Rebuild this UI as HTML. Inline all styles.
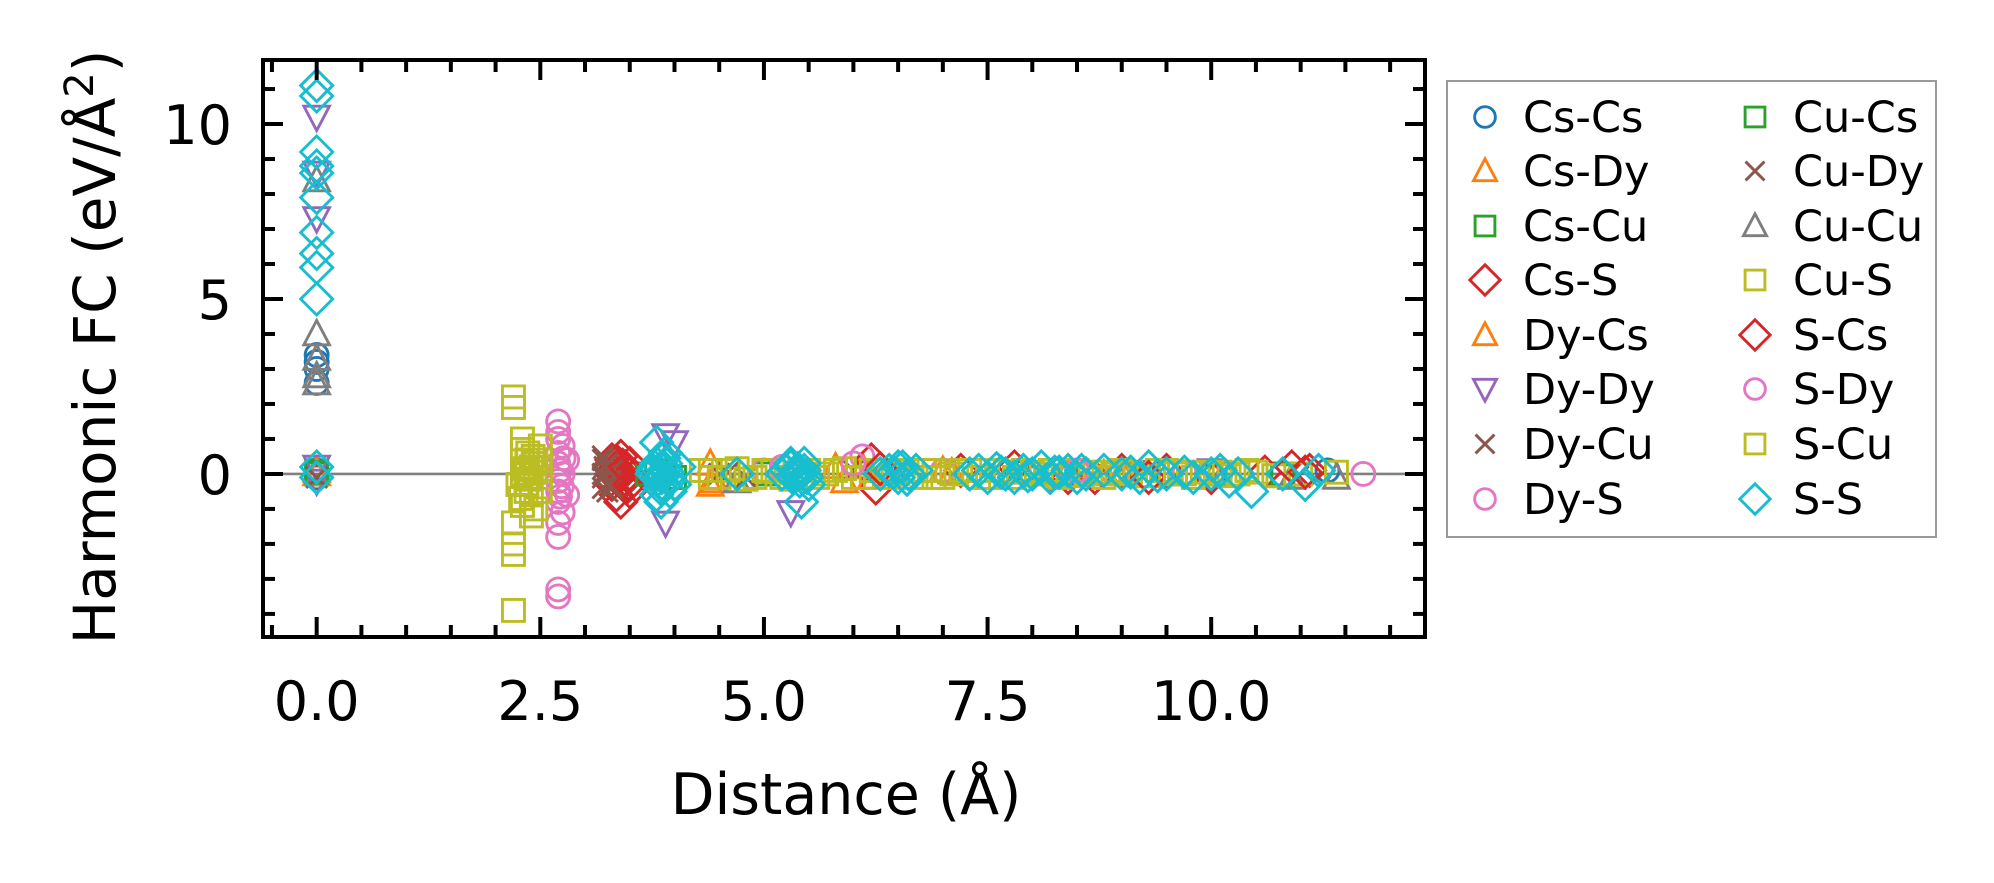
<!DOCTYPE html>
<html><head><meta charset="utf-8"><style>
html,body{margin:0;padding:0;background:#fff;}
svg{display:block;font-family:"DejaVu Sans","Liberation Sans",sans-serif;}
</style></head><body>
<svg id="chart" width="1994" height="883" viewBox="0 0 1994 883" xmlns="http://www.w3.org/2000/svg">
<rect width="1994" height="883" fill="#fff"/>
<g id="plot"></g>
<g id="axes"></g>
<text x="846" y="814" font-size="57" text-anchor="middle">Distance (Å)</text>
<text transform="translate(115,347) rotate(-90)" font-size="58" text-anchor="middle">Harmonic FC (eV/Å<tspan dy="-22" font-size="40">2</tspan><tspan dy="22">)</tspan></text>
<g id="legend"></g>
</svg>
<script>
const NS="http://www.w3.org/2000/svg";
const xTicks=[0,2.5,5,7.5,10];
const xTickLabels=["0.0","2.5","5.0","7.5","10.0"];
const yTicks=[0,5,10];
const yTickLabels=["0","5","10"];
const seriesNames=["Cs-Cs","Cs-Dy","Cs-Cu","Cs-S","Dy-Cs","Dy-Dy","Dy-Cu","Dy-S","Cu-Cs","Cu-Dy","Cu-Cu","Cu-S","S-Cs","S-Dy","S-Cu","S-S"];
const ccX=[0,0,0,0,0,0,11.3,8.4,7.9,10.1];
const ccY=[3.4,3.2,3.0,2.6,0.1,-0.1,0.1,0,0.05,0];
const cdX=[0,4.4,4.4,5.9,6.1,7.0,9.0];
const cdY=[0.1,-0.3,0.3,-0.2,0.2,0.1,0.05];
const ccuX=[0,3.8,4.0,10.8,5.0];
const ccuY=[0,0.1,-0.1,0,0];
const csX=[3.3,3.35,3.4,3.45,3.5,3.3,3.4,3.5,3.35,3.45,3.4,3.32,3.38,3.42,3.48,3.36,3.44,3.3,3.5,6.2,6.25,7.8,8.4,11.1,9.0,10.0,7.2,8.7,9.5,10.6];
const csY=[0.4,0.2,0,-0.2,0.3,-0.3,0.5,-0.5,-0.6,0.1,-0.8,0.1,-0.1,0.25,-0.35,0.35,-0.15,0,0,0.4,-0.4,0.2,-0.1,0.1,0.1,-0.1,0.1,-0.1,0.1,0.05];
const dcX=[0,4.45,5.8,6.2,7.1,8.8];
const dcY=[0,-0.2,0.2,-0.1,0.05,0];
const ddX=[0,0,0,0,0,3.9,3.9,5.3,4.0,6.5,10.0,8.2,9.1];
const ddY=[10.2,8.6,7.3,0.2,-0.2,1.1,-1.4,-1.1,0.9,0.1,0.1,-0.1,0.05];
const dcuX=[3.2,3.25,3.3,3.2,3.3,3.25,3.2,3.22,3.28,3.2,4.5,4.8,6.0];
const dcuY=[0.5,0.3,0.1,-0.1,-0.3,-0.5,0,0.2,-0.2,-0.4,0,-0.1,0.1];
const dsX=[2.7,2.7,2.7,2.7,2.7,2.75,2.75,2.7,2.7,2.7,2.75,2.7,2.7,2.7,2.7,2.72,2.74,2.72,2.76,6.1,5.0,7.0,8.9,11.7];
const dsY=[1.5,1.2,1.0,0.6,0.3,0.8,0,-0.2,-0.5,-0.8,-1.1,-1.4,-1.8,-3.3,-3.5,0.1,-0.35,-0.65,0.45,0.5,0.1,0.1,0.05,0];
const cucsX=[0,3.7,10.8];
const cucsY=[0.05,0,-0.05];
const cudyX=[0,3.2,3.3,4.6];
const cudyY=[-0.1,0.4,-0.4,0.05];
const cucuX=[0,0,0,0,0,4.7,10.9,11.4];
const cucuY=[8.4,4.0,3.3,2.8,2.6,-0.2,-0.1,-0.1];
const cusX=[2.2,2.2,2.2,2.2,2.2,2.2,2.3,2.3,2.35,2.4,2.3,2.35,2.4,2.3,2.4,2.5,2.5,2.5,2.5,2.45,2.32,2.38,2.42,2.34,2.28,2.44,2.36,4.3,4.4,4.5,4.6,4.7,4.8,4.9,5.0,5.1,5.2,5.3,5.4,5.5,5.6,5.7,5.8,5.9,6.0,6.1,6.2,6.3,6.4,6.5,6.6,6.7,6.8,6.9,7.0,7.1,7.2,7.3,7.4,7.5,7.6,7.7,7.8,7.9,8.0,8.1,8.2,8.3,8.4,8.5,8.6,8.7,8.8,8.9,9.0,9.1,9.2,9.3,9.4,9.5,9.6,9.7,9.8,9.9,10.0,10.1,10.2,10.3,10.4,10.5,10.7,11.0,11.4];
const cusY=[2.2,1.9,-1.4,-2.0,-2.3,-3.9,1.0,0.7,0.4,0.2,0,-0.3,-0.6,-0.9,-1.2,0.8,0.4,-0.1,-0.5,-1.0,0.15,-0.15,0.5,-0.5,-0.7,0.05,0.6,0.1,-0.1,-0.1,0.1,0.15,-0.15,-0.1,0.1,0.1,-0.1,-0.15,0.1,0.1,-0.1,0,0.1,0.15,-0.1,-0.1,0.1,0.1,-0.1,0,0.1,-0.1,0.1,0.1,-0.1,0,0.1,0.1,-0.1,-0.1,0.1,0.05,-0.1,0.1,0.05,0,0.1,-0.1,-0.05,0.1,0,0.05,-0.1,0,0.1,0.05,-0.05,-0.05,0.1,0.1,0,0,-0.1,0.05,0,0.05,-0.05,0,0.1,0.05,-0.05,0,0.05,-0.1];
const scsX=[3.45,3.5,6.3,9.3,10.9,11.05];
const scsY=[0.2,-0.3,0.15,-0.1,0.2,0.05];
const sdyX=[2.8,2.8,5.2,6.0,8.5,9.7];
const sdyY=[0.4,-0.6,0.2,0.3,0.1,0.05];
const scuX=[2.25,2.45,4.4,6.9,9.6];
const scuY=[-0.3,0.3,0.1,-0.1,0.05];
const ssX=[0,0,0,0,0,0,0,0,0,0,0,0,3.75,3.8,3.85,3.9,3.95,3.8,3.85,3.9,3.82,3.88,3.78,3.84,3.92,3.86,3.8,3.9,3.76,3.94,4.0,4.05,4.7,5.2,5.3,5.4,5.45,5.5,5.35,5.42,5.45,5.25,5.32,5.38,5.48,5.4,5.3,6.3,6.4,6.5,6.55,6.6,6.7,6.45,6.62,6.5,7.3,7.4,7.5,7.6,7.7,7.8,7.9,8.0,8.1,8.2,8.3,8.4,8.5,8.6,8.8,9.0,9.2,9.3,9.5,9.7,9.8,10.0,10.1,10.2,10.3,10.45,10.8,11.05,11.2,7.65,7.95,8.25,8.55,9.1,9.4];
const ssY=[11.1,10.8,9.2,8.8,8.6,7.9,6.9,6.3,5.9,5.0,0.2,-0.1,0,0.3,-0.3,0.6,-0.5,0.9,-0.8,0.15,-0.15,0.45,0.2,-0.4,0.05,-0.1,-0.6,0.3,0.1,-0.2,-0.3,0.2,0,0,0.2,-0.2,0.3,-0.3,0,-0.8,0.1,0.1,-0.1,0.15,-0.1,0.05,0.3,0,0.1,-0.1,0.2,-0.15,0.1,0.05,0,0.2,0,0.1,-0.1,0.15,0,-0.1,0.1,0,0.2,-0.1,0.05,0.1,-0.1,0,0.1,0,-0.1,0.2,0,0.05,-0.1,0,0.1,-0.2,0,-0.5,0,-0.3,0.1,0.05,-0.05,0.05,0.1,0.05,-0.05];

const series=[
 {n:0,xs:ccX,ys:ccY,m:"o",c:"#1f77b4"},{n:1,xs:cdX,ys:cdY,m:"^",c:"#ff7f0e"},
 {n:2,xs:ccuX,ys:ccuY,m:"s",c:"#2ca02c"},{n:3,xs:csX,ys:csY,m:"D",c:"#d62728"},
 {n:4,xs:dcX,ys:dcY,m:"^",c:"#ff7f0e"},{n:5,xs:ddX,ys:ddY,m:"v",c:"#9467bd"},
 {n:6,xs:dcuX,ys:dcuY,m:"x",c:"#8c564b"},{n:7,xs:dsX,ys:dsY,m:"o",c:"#e377c2"},
 {n:8,xs:cucsX,ys:cucsY,m:"s",c:"#2ca02c"},{n:9,xs:cudyX,ys:cudyY,m:"x",c:"#8c564b"},
 {n:10,xs:cucuX,ys:cucuY,m:"^",c:"#7f7f7f"},{n:11,xs:cusX,ys:cusY,m:"s",c:"#bcbd22"},
 {n:12,xs:scsX,ys:scsY,m:"D",c:"#d62728"},{n:13,xs:sdyX,ys:sdyY,m:"o",c:"#e377c2"},
 {n:14,xs:scuX,ys:scuY,m:"s",c:"#bcbd22"},{n:15,xs:ssX,ys:ssY,m:"D",c:"#17becf"}];

const L=263,R=1425,T=60,B=637,xmin=-0.6,xmax=12.39,ymin=-4.66,ymax=11.83;
const sx=v=>L+(v-xmin)/(xmax-xmin)*(R-L);
const sy=v=>B-(v-ymin)/(ymax-ymin)*(B-T);

function mk(tag,attrs,parent){const e=document.createElementNS(NS,tag);for(const k in attrs)e.setAttribute(k,attrs[k]);parent.appendChild(e);return e;}
function marker(m,x,y,c,parent,s){
 s=s||1;let e;const st={fill:"none",stroke:c,"stroke-width":2.9};
 if(m==="o"){e=mk("circle",Object.assign({cx:x,cy:y,r:11.5*s},st),parent);}
 else if(m==="s"){const h=11*s;e=mk("rect",Object.assign({x:x-h,y:y-h,width:2*h,height:2*h},st),parent);}
 else if(m==="D"){const h=16*s;e=mk("polygon",Object.assign({points:`${x},${y-h} ${x+h},${y} ${x},${y+h} ${x-h},${y}`},st),parent);}
 else if(m==="^"){const h=13.5*s;e=mk("polygon",Object.assign({points:`${x},${y-h} ${x+h*0.95},${y+h*0.8} ${x-h*0.95},${y+h*0.8}`},st),parent);}
 else if(m==="v"){const h=13.5*s;e=mk("polygon",Object.assign({points:`${x},${y+h} ${x+h*0.95},${y-h*0.8} ${x-h*0.95},${y-h*0.8}`},st),parent);}
 else {const h=10.5*s;e=mk("path",Object.assign({d:`M${x-h},${y-h}L${x+h},${y+h}M${x-h},${y+h}L${x+h},${y-h}`},st),parent);}
 return e;
}
const plot=document.getElementById("plot");
const zl=mk("line",{x1:L,x2:R,y1:sy(0),y2:sy(0),stroke:"#808080","stroke-width":2.7},plot);


series.forEach(s=>{
 const g=mk("g",{},plot);
 
 
 s.xs.forEach((xv,i)=>{
  const p=marker(s.m,sx(xv),sy(s.ys[i]),s.c,g);
  
  
 });
});
const axes=document.getElementById("axes");
const frame=mk("rect",{x:L,y:T,width:R-L,height:B-T,fill:"none",stroke:"#000","stroke-width":4},axes);


function tickX(v,len){mk("line",{x1:sx(v),x2:sx(v),y1:B,y2:B-len,stroke:"#000","stroke-width":4},axes);mk("line",{x1:sx(v),x2:sx(v),y1:T,y2:T+len,stroke:"#000","stroke-width":4},axes);}
function tickY(v,len){mk("line",{x1:L,x2:L+len,y1:sy(v),y2:sy(v),stroke:"#000","stroke-width":4},axes);mk("line",{x1:R,x2:R-len,y1:sy(v),y2:sy(v),stroke:"#000","stroke-width":4},axes);}
for(let k=-1;k<=24;k++){const v=k*0.5;if(v>xmin&&v<xmax)tickX(v,xTicks.includes(v)?20:12);}
for(let v=-4;v<=11;v++){tickY(v,yTicks.includes(v)?20:12);}
xTicks.forEach((v,i)=>{const t=mk("text",{x:sx(v),y:720,"font-size":54,"text-anchor":"middle"},axes);t.textContent=xTickLabels[i];
 
 });
yTicks.forEach((v,i)=>{const t=mk("text",{x:232,y:sy(v)+20,"font-size":54,"text-anchor":"end"},axes);t.textContent=yTickLabels[i];
 
 });
const leg=document.getElementById("legend");
mk("rect",{x:1447,y:81,width:489,height:456,fill:"#fff",stroke:"#999","stroke-width":2},leg);
const rowY=[117,171,226,280,335,389,444,499];
series.forEach((s,i)=>{
 const col=Math.floor(i/8),row=i%8;
 const g=mk("g",{},leg);
 
 
 const mx=col?1755:1485;
 marker(s.m,mx,rowY[row],s.c,g,s.m==="D"?0.95:0.9);
 const t=mk("text",{x:col?1793:1523,y:rowY[row]+15,"font-size":43},g);t.textContent=seriesNames[s.n];
});
</script>
</body></html>
